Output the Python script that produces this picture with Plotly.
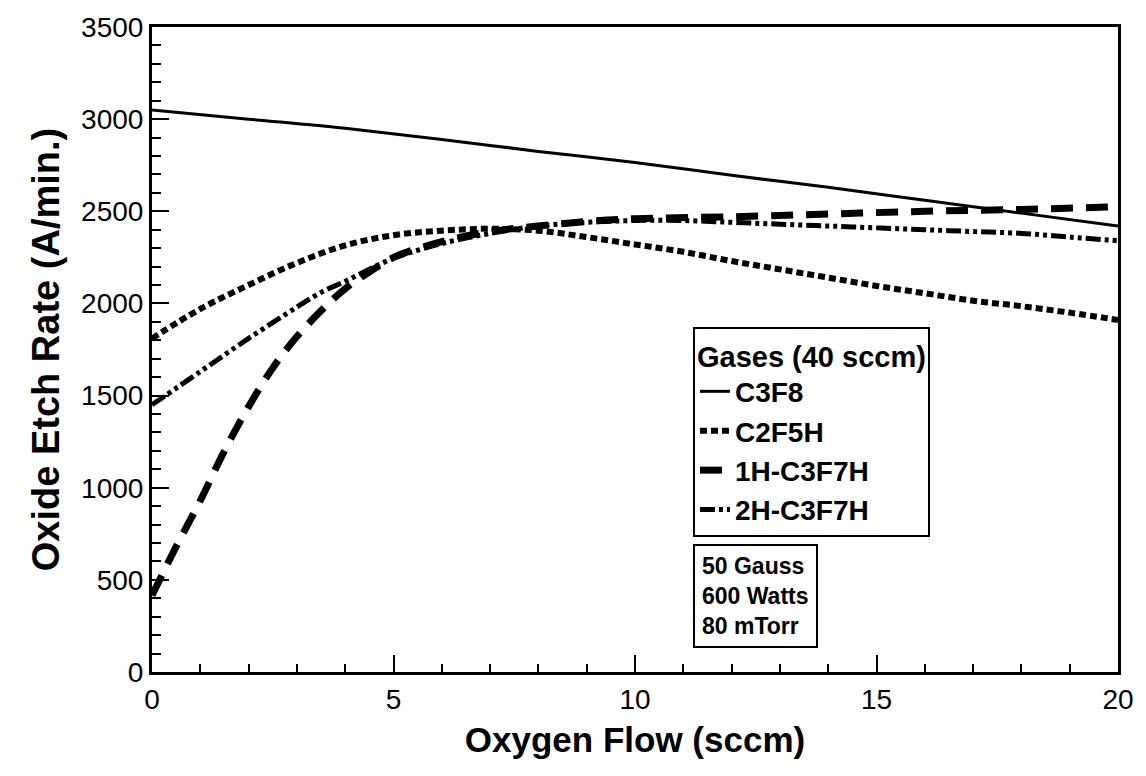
import plotly.graph_objects as go

x_c3f8 = [0, 2, 4, 6, 8, 10, 12, 14, 16, 18, 20]
y_c3f8 = [3050, 3000, 2950, 2890, 2825, 2765, 2695, 2630, 2560, 2490, 2420]

x_c2f5h = [0, 1, 2, 3, 4, 5, 6, 7, 8, 9, 10, 11, 12, 13, 14, 15, 16, 17, 18, 19, 20]
y_c2f5h = [1810, 1970, 2100, 2220, 2315, 2370, 2395, 2405, 2395, 2360, 2320, 2280,
           2230, 2185, 2140, 2095, 2055, 2015, 1985, 1950, 1910]

x_1h = [0, 0.5, 1, 1.5, 2, 2.5, 3, 3.5, 4, 4.5, 5, 6, 7, 8, 9, 10, 12, 14, 16, 18, 20]
y_1h = [415, 680, 930, 1200, 1440, 1650, 1820, 1960, 2080, 2170, 2250, 2335, 2390,
        2420, 2445, 2460, 2470, 2485, 2500, 2510, 2525]

x_2h = [0, 1, 2, 3, 3.5, 4, 4.5, 5, 6, 7, 8, 9, 10, 11, 12, 13, 14, 15, 16, 17, 18, 19, 20]
y_2h = [1450, 1630, 1810, 1980, 2060, 2120, 2185, 2245, 2325, 2380, 2420, 2440, 2450,
        2450, 2440, 2430, 2420, 2410, 2400, 2390, 2380, 2360, 2340]

x_ticks = [0, 5, 10, 15, 20]
y_ticks = [0, 500, 1000, 1500, 2000, 2500, 3000, 3500]

FONT = "Liberation Sans, Arial, sans-serif"

fig = go.Figure()
fig.add_trace(go.Scatter(x=x_c3f8, y=y_c3f8, mode="lines", name="C3F8",
                         line=dict(color="black", width=3, shape="spline")))
fig.add_trace(go.Scatter(x=x_c2f5h, y=y_c2f5h, mode="lines", name="C2F5H",
                         line=dict(color="black", width=6, dash="7px,4px", shape="spline")))
fig.add_trace(go.Scatter(x=x_1h, y=y_1h, mode="lines", name="1H-C3F7H",
                         line=dict(color="black", width=7, dash="22px,13px", shape="spline")))
fig.add_trace(go.Scatter(x=x_2h, y=y_2h, mode="lines", name="2H-C3F7H",
                         line=dict(color="black", width=5, dash="15px,4px,4px,4px,4px,4px",
                                   shape="spline")))

axis_common = dict(
    showgrid=False, zeroline=False, showline=True, linecolor="black", linewidth=3,
    mirror=True, ticks="inside", tickcolor="black", tickwidth=2, ticklen=17,
    tickfont=dict(family=FONT, size=28, color="black"),
)

fig.update_xaxes(range=[0, 20], tickvals=x_ticks, ticktext=[str(v) for v in x_ticks],
                 title=dict(text="Oxygen Flow (sccm)",
                            font=dict(family=FONT, size=35, color="black", weight="bold"),
                            standoff=14),
                 minor=dict(dtick=1, ticks="inside", ticklen=8, tickwidth=2, tickcolor="black"),
                 **axis_common)
fig.update_yaxes(range=[0, 3500], tickvals=y_ticks, ticktext=[str(v) for v in y_ticks],
                 title=dict(text="Oxide Etch Rate (A/min.)",
                            font=dict(family=FONT, size=38, color="black", weight="bold"),
                            standoff=10),
                 minor=dict(dtick=100, ticks="inside", ticklen=9, tickwidth=2, tickcolor="black"),
                 **axis_common)

fig.update_layout(
    width=1146, height=776,
    margin=dict(l=152, r=25, t=23, b=104),
    paper_bgcolor="white", plot_bgcolor="white",
    font=dict(family=FONT, color="black"),
    legend=dict(
        x=0.56, y=0.535, xanchor="left", yanchor="top",
        title=dict(text="Gases (40 sccm)", font=dict(family=FONT, size=29, weight="bold")),
        font=dict(family=FONT, size=28, color="black", weight="bold"),
        bordercolor="black", borderwidth=2, bgcolor="white",
        tracegroupgap=0,
    ),
    annotations=[dict(
        text="50 Gauss<br>600 Watts<br>80 mTorr",
        xref="paper", yref="paper", x=0.56, y=0.199, xanchor="left", yanchor="top",
        showarrow=False, align="left",
        font=dict(family=FONT, size=23, color="black", weight="bold"),
        bordercolor="black", borderwidth=2, borderpad=7, bgcolor="white",
    )],
)

fig.write_html("out.html")
